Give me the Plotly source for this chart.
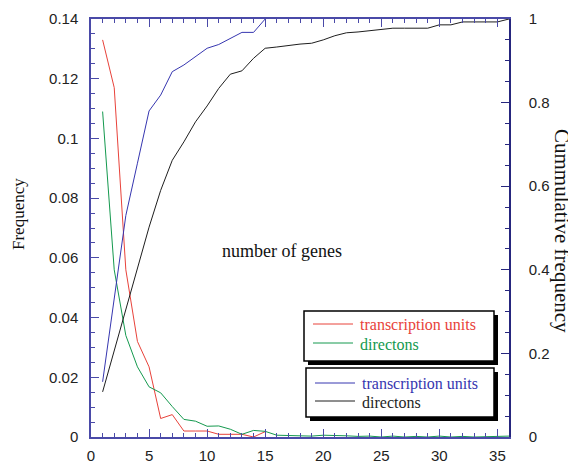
import plotly.graph_objects as go

# ---- data ----
genes_tu = list(range(1, 16))
genes_dir = list(range(1, 37))
freq_tu = [0.133, 0.117, 0.056, 0.032, 0.0235, 0.0062, 0.0075, 0.002, 0.002, 0.002,
           0.0009, 0.0009, 0.0009, 0.0, 0.0018]
freq_dir = [0.109, 0.056, 0.034, 0.0235, 0.0168, 0.0148, 0.0102, 0.0059, 0.0053, 0.0036,
            0.0037, 0.0026, 0.0009, 0.0022, 0.0019, 0.0006, 0.0005, 0.0005, 0.0003, 0.0006,
            0.0006, 0.0004, 0.0002, 0.0003, 0.0, 0.0003, 0.0, 0.0002, 0.0, 0.0003,
            0.0, 0.0002, 0.0, 0.0, 0.0002, 0.0003]
cum_tu = [0.132, 0.334, 0.53, 0.655, 0.78, 0.818, 0.874, 0.89, 0.91, 0.93,
          0.939, 0.953, 0.968, 0.968, 1.0]
cum_dir = [0.108, 0.207, 0.305, 0.404, 0.502, 0.59, 0.662, 0.706, 0.754, 0.792,
           0.834, 0.868, 0.876, 0.906, 0.930, 0.933, 0.937, 0.940, 0.942, 0.95,
           0.96, 0.967, 0.969, 0.972, 0.976, 0.978, 0.978, 0.978, 0.978, 0.986,
           0.986, 0.993, 0.993, 0.993, 0.993, 1.0]
x_ticks = [0, 5, 10, 15, 20, 25, 30, 35]
y_ticks = [0, 0.02, 0.04, 0.06, 0.08, 0.1, 0.12, 0.14]
y_ticklabels = ["0", "0.02", "0.04", "0.06", "0.08", "0.1", "0.12", "0.14"]
y2_ticks = [0, 0.2, 0.4, 0.6, 0.8, 1]
y2_ticklabels = ["0", "0.2", "0.4", "0.6", "0.8", "1"]

RED = "#e8423a"
GREEN = "#14994e"
BLUE = "#3636b0"
BLACK = "#1e1e1e"
AXIS = "#4a4aa8"
AXIS_R = "#26267e"

OFF = 8  # page body margin
W, H = 576 - OFF, 464 - OFF
L, R, T, B = 91 - OFF, 67, 19 - OFF, 27
PW, PH = W - L - R, H - T - B
PLOT_LEFT, PLOT_BOTTOM = 91, 437  # in page pixels


def px(x):
    return (x - PLOT_LEFT) / PW


def py(y):
    return (PLOT_BOTTOM - y) / PH


fig = go.Figure()
fig.add_trace(go.Scatter(x=genes_tu, y=freq_tu, mode="lines", line=dict(color=RED, width=1), yaxis="y"))
fig.add_trace(go.Scatter(x=genes_dir, y=freq_dir, mode="lines", line=dict(color=GREEN, width=1), yaxis="y"))
fig.add_trace(go.Scatter(x=genes_tu, y=cum_tu, mode="lines", line=dict(color=BLUE, width=1), yaxis="y2"))
fig.add_trace(go.Scatter(x=genes_dir, y=cum_dir, mode="lines", line=dict(color=BLACK, width=1), yaxis="y2"))

tickfont = dict(family="Liberation Sans, Arial, sans-serif", size=15, color="#222222")
serif = "Liberation Serif, Times New Roman, serif"

fig.update_layout(
    width=W, height=H,
    margin=dict(l=L, r=R, t=T, b=B, pad=0, autoexpand=False),
    paper_bgcolor="white", plot_bgcolor="white",
    showlegend=False,
    xaxis=dict(range=[0, 36], tickvals=x_ticks, ticks="inside", ticklen=8, tickwidth=1,
               tickcolor=AXIS, showline=True, linecolor=AXIS, linewidth=1.5, mirror="ticks",
               showgrid=False, zeroline=False, tickfont=tickfont, ticklabelstandoff=4,
               automargin=False,
               minor=dict(dtick=1, ticks="inside", ticklen=4, tickcolor=AXIS, showgrid=False)),
    yaxis=dict(range=[0, 0.14], tickvals=y_ticks, ticktext=y_ticklabels, ticks="inside",
               ticklen=8, tickcolor=AXIS, showline=True, linecolor=AXIS, linewidth=1.5,
               showgrid=False, zeroline=False, tickfont=tickfont, ticklabelstandoff=8,
               automargin=False,
               minor=dict(dtick=0.005, ticks="inside", ticklen=4, tickcolor=AXIS, showgrid=False)),
    yaxis2=dict(range=[0, 1], overlaying="y", side="right", tickvals=y2_ticks,
                ticktext=y2_ticklabels, ticks="inside", ticklen=8, tickcolor=AXIS_R,
                showline=True, linecolor=AXIS_R, linewidth=1.5, showgrid=False,
                zeroline=False, tickfont=tickfont, ticklabelstandoff=15, automargin=False,
                minor=dict(dtick=0.05, ticks="inside", ticklen=4, tickcolor=AXIS_R, showgrid=False)),
)

shapes = []
annotations = []


def box(x0, y0, x1, y1):
    shapes.append(dict(type="rect", xref="paper", yref="paper",
                       x0=px(x0 + 4), x1=px(x1 + 4), y0=py(y1 + 4), y1=py(y0 + 4),
                       fillcolor="black", line=dict(width=0), layer="above"))
    shapes.append(dict(type="rect", xref="paper", yref="paper",
                       x0=px(x0), x1=px(x1), y0=py(y1), y1=py(y0),
                       fillcolor="white", line=dict(color="black", width=1.5), layer="above"))


def entry(x0, x1, y, color, label, tcolor):
    shapes.append(dict(type="line", xref="paper", yref="paper",
                       x0=px(x0), x1=px(x1), y0=py(y), y1=py(y),
                       line=dict(color=color, width=1), layer="above"))
    annotations.append(dict(xref="paper", yref="paper", x=px(x1 + 5), y=py(y + 1),
                            text=label, showarrow=False, xanchor="left", yanchor="middle",
                            font=dict(family=serif, size=16, color=tcolor)))


box(304, 311, 494, 361)
entry(313, 353, 324, RED, "transcription units", RED)
entry(313, 353, 343, GREEN, "directons", GREEN)
box(306, 368, 494, 417)
entry(315, 355, 383, BLUE, "transcription units", BLUE)
entry(315, 355, 401, BLACK, "directons", BLACK)

annotations.append(dict(xref="paper", yref="paper", x=px(282), y=py(251), text="number of genes",
                        showarrow=False, xanchor="center", yanchor="middle",
                        font=dict(family=serif, size=18, color="#111111")))
annotations.append(dict(xref="paper", yref="paper", x=px(18), y=py(214), text="Frequency",
                        showarrow=False, xanchor="center", yanchor="middle", textangle=-90,
                        font=dict(family=serif, size=17, color="#111111")))
annotations.append(dict(xref="paper", yref="paper", x=px(562), y=py(231), text="Cummulative frequency",
                        showarrow=False, xanchor="center", yanchor="middle", textangle=90,
                        font=dict(family=serif, size=21, color="#111111")))

fig.update_layout(shapes=shapes, annotations=annotations)
fig.write_html("out.html")
